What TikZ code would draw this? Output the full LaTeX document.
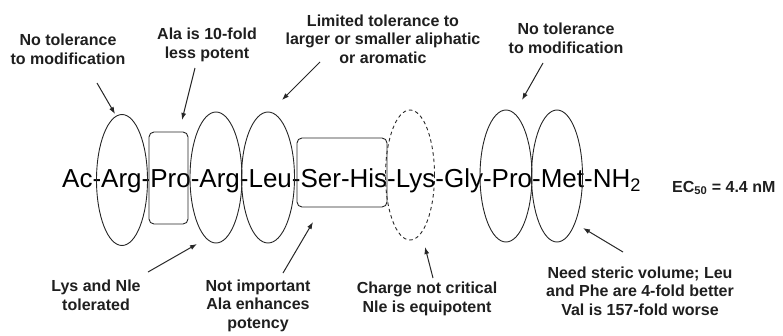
\documentclass[tikz,border=0pt]{standalone}
\usepackage{fontspec}
\setmainfont{Liberation Sans}
\usetikzlibrary{arrows.meta,shapes.geometric}
\begin{document}
\begin{tikzpicture}[x=1pt,y=-1pt,
  seq/.style={font=\fontsize{26}{30}\selectfont, inner sep=0pt, anchor=base west},
  note/.style={font=\bfseries\fontsize{16}{18.5}\selectfont, align=center, inner sep=0pt, anchor=base, text=black!88},
  res/.style={draw=black!85, ellipse, line width=0.9pt, inner sep=0pt, minimum width=51pt, minimum height=131pt},
  rbox/.style={draw=black!85, rounded corners=5pt, line width=0.9pt, inner sep=0pt},
  arr/.style={-{Latex[length=7pt,width=5pt]}, line width=1pt, draw=black!85}
]
\useasboundingbox (0,0) rectangle (783,335);
% sequence
\node[seq] (seqtext) at (62,187) {Ac-Arg-Pro-Arg-Leu-Ser-His-Lys-Gly-Pro-Met-NH\textsubscript{2}};
\node[font=\bfseries\fontsize{16}{18}\selectfont, inner sep=0pt, anchor=base west, text=black!88] (ec) at (672,192) {EC\textsubscript{50} = 4.4 nM};
% residue marks
\node[res] (e1) at (122,180) {};
\node[rbox, minimum width=39pt, minimum height=92pt] (prob) at (168.5,178) {};
\node[res, minimum width=52pt] (e2) at (216,177.5) {};
\node[res, minimum width=53pt] (e3) at (268,177.5) {};
\node[rbox, minimum width=90pt, minimum height=69pt] (shb) at (342,172.5) {};
\node[res, dash pattern=on 3.5pt off 3pt, minimum width=49pt, minimum height=130pt] (e4) at (410,175) {};
\node[res, minimum width=52pt, minimum height=132pt] (e5) at (506,176) {};
\node[res, minimum width=51pt, minimum height=132pt] (e6) at (557,176) {};
% notes (anchor = baseline of last line)
\node[note] (n1) at (68,64) {No tolerance\\to modification};
\node[note] (n2) at (207,58) {Ala is 10-fold\\less potent};
\node[note] (n3) at (383,63) {Limited tolerance to\\larger or smaller aliphatic\\or aromatic};
\node[note] (n4) at (566,53) {No tolerance\\to modification};
\node[note] (n5) at (96,310) {Lys and Nle\\tolerated};
\node[note] (n6) at (258,328) {Not important\\Ala enhances\\potency};
\node[note] (n7) at (427,312) {Charge not critical\\Nle is equipotent};
\node[note] (n8) at (640,315) {Need steric volume; Leu\\and Phe are 4-fold better\\Val is 157-fold worse};
% arrow ends
\coordinate (s1) at (97,83);   \coordinate (t1) at (115,114);
\coordinate (s2) at (195,68);  \coordinate (t2) at (182,120);
\coordinate (s3) at (320,62);  \coordinate (t3) at (282,100);
\coordinate (s4) at (543,63);  \coordinate (t4) at (522,100);
\coordinate (s5) at (148,272); \coordinate (t5) at (197,244);
\coordinate (s6) at (283,273); \coordinate (t6) at (313,222);
\coordinate (s7) at (433,278); \coordinate (t7) at (425,247);
\coordinate (s8) at (623,252); \coordinate (t8) at (583,228);
\foreach \i in {1,...,8} { \draw[arr] (s\i) -- (t\i); }
\end{tikzpicture}
\end{document}
